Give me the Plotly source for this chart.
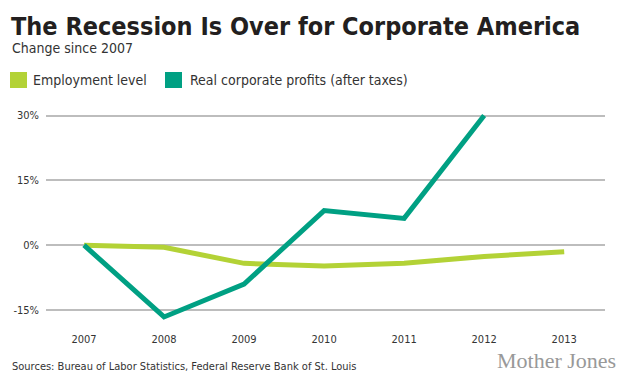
import plotly.graph_objects as go

years = [2007, 2008, 2009, 2010, 2011, 2012, 2013]
employment = [0.0, -0.5, -4.2, -4.8, -4.2, -2.6, -1.5]
profit_years = [2007, 2008, 2009, 2010, 2011, 2012]
profits = [0.0, -16.6, -9.0, 8.0, 6.2, 30.0]
y_ticks = [-15, 0, 15, 30]
y_tick_labels = ["-15%", "0%", "15%", "30%"]

EMP_COLOR = "#b3d236"
PROF_COLOR = "#00a083"
FONT = "DejaVu Sans Condensed, Lato, sans-serif"

W, H = 630, 385
L, R, T, B = 46, 25, 106, 62
pw, ph = W - L - R, H - T - B

def px(x):
    return (x - L) / pw

def py(y):
    return (H - B - y) / ph

fig = go.Figure()
fig.add_trace(go.Scatter(x=years, y=employment, mode="lines",
                         line=dict(color=EMP_COLOR, width=5), showlegend=False))
fig.add_trace(go.Scatter(x=profit_years, y=profits, mode="lines",
                         line=dict(color=PROF_COLOR, width=5), showlegend=False))

shapes = [
    dict(type="line", xref="paper", yref="y", x0=0, x1=1, y0=-15, y1=-15,
         line=dict(color="#777777", width=1.2), layer="below"),
    dict(type="rect", xref="paper", yref="paper", x0=px(10), x1=px(27), y0=py(88), y1=py(72),
         fillcolor=EMP_COLOR, line=dict(width=0)),
    dict(type="rect", xref="paper", yref="paper", x0=px(165), x1=px(182), y0=py(88), y1=py(72),
         fillcolor=PROF_COLOR, line=dict(width=0)),
]

annotations = [
    dict(text="<b>The Recession Is Over for Corporate America</b>", xref="paper", yref="paper",
         x=px(9), y=py(26), xanchor="left", yanchor="middle", showarrow=False,
         font=dict(family=FONT, size=25, color="#231f20")),
    dict(text="Change since 2007", xref="paper", yref="paper",
         x=px(10), y=py(48), xanchor="left", yanchor="middle", showarrow=False,
         font=dict(family=FONT, size=14, color="#333333")),
    dict(text="Employment level", xref="paper", yref="paper",
         x=px(31), y=py(80), xanchor="left", yanchor="middle", showarrow=False,
         font=dict(family=FONT, size=14, color="#333333")),
    dict(text="Real corporate profits (after taxes)", xref="paper", yref="paper",
         x=px(188), y=py(80), xanchor="left", yanchor="middle", showarrow=False,
         font=dict(family=FONT, size=14, color="#333333")),
    dict(text="Sources: Bureau of Labor Statistics, Federal Reserve Bank of St. Louis", xref="paper", yref="paper",
         x=px(10), y=py(366), xanchor="left", yanchor="middle", showarrow=False,
         font=dict(family=FONT, size=11, color="#333333")),
    dict(text="Mother Jones", xref="paper", yref="paper",
         x=px(618), y=py(360), xanchor="right", yanchor="middle", showarrow=False,
         font=dict(family="Liberation Serif", size=22, color="#999999")),
]

fig.update_layout(
    width=W, height=H,
    margin=dict(l=L, r=R, t=T, b=B, pad=0),
    paper_bgcolor="white", plot_bgcolor="white",
    shapes=shapes, annotations=annotations,
    xaxis=dict(range=[2006.525, 2013.51], tickvals=years, showgrid=False, zeroline=False,
               showline=False, ticks="", ticklabelstandoff=8,
               tickfont=dict(family=FONT, size=11, color="#333333")),
    yaxis=dict(range=[-18, 32.2], tickvals=y_ticks, ticktext=y_tick_labels,
               showgrid=True, gridcolor="#bdbdbd", gridwidth=1.5, zeroline=False,
               showline=False, ticks="", ticklabelstandoff=6,
               tickfont=dict(family=FONT, size=11, color="#333333")),
)

fig.write_html("out.html", config={"displayModeBar": False},
               post_script="document.body.style.margin='0';")
